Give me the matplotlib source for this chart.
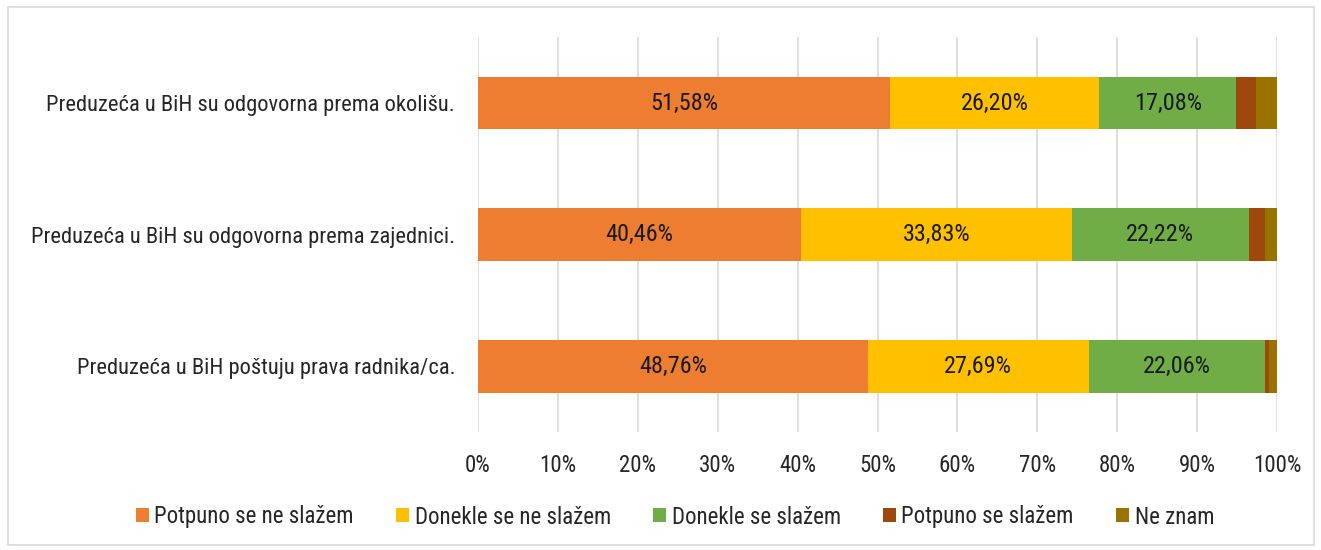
import matplotlib.pyplot as plt
import numpy as np
from matplotlib.patches import Rectangle

plt.rcParams['font.family'] = ['Roboto Condensed', 'Roboto', 'DejaVu Sans']

questions = ["Preduzeća u BiH su odgovorna prema okolišu.",
             "Preduzeća u BiH su odgovorna prema zajednici.",
             "Preduzeća u BiH poštuju prava radnika/ca."]
series = ["Potpuno se ne slažem", "Donekle se ne slažem", "Donekle se slažem",
          "Potpuno se slažem", "Ne znam"]
potpuno_ne = [51.58, 40.46, 48.76]
donekle_ne = [26.20, 33.83, 27.69]
donekle_da = [17.08, 22.22, 22.06]
potpuno_da = [2.50, 2.00, 0.45]
ne_znam = [2.64, 1.49, 1.04]
colors = ["#ED7D31", "#FFC000", "#70AD47", "#9E480E", "#997300"]

values = [potpuno_ne, donekle_ne, donekle_da, potpuno_da, ne_znam]

fig = plt.figure(figsize=(13.21, 5.5), dpi=100)
ax = fig.add_axes([0.3619, 0.2145, 0.6048, 0.7178])

y = np.arange(len(questions))
left = np.zeros(len(questions))
for name, vals, c in zip(series, values, colors):
    vals = np.array(vals)
    bars = ax.barh(y, vals, left=left, height=0.4, color=c, label=name, zorder=3)
    if name in series[:3]:
        for yi, l, v in zip(y, left, vals):
            ax.text(l + v / 2, yi, f"{v:.2f}%".replace('.', ','), ha='center', va='center',
                    fontsize=17.5, color='#1a1a1a', zorder=4)
    left += vals

ax.set_xlim(0, 100)
ax.set_ylim(2.5, -0.5)
ax.set_xticks(np.arange(0, 101, 10))
ax.set_xticklabels([f"{t}%" for t in range(0, 101, 10)], fontsize=16.5, color='#262626')
ax.set_yticks(y)
ax.set_yticklabels(questions, fontsize=16.2, color='#262626')
ax.tick_params(length=0)
ax.tick_params(axis='y', pad=16.5)
ax.tick_params(axis='x', pad=16)
ax.grid(axis='x', color='#d9d9d9', linewidth=1.2, zorder=0)
for s in ax.spines.values():
    s.set_visible(False)

ax.legend(loc='center', bbox_to_anchor=(0.511, 0.06), bbox_transform=fig.transFigure,
          ncol=5, frameon=False, fontsize=16.5, handlelength=0.55, handleheight=0.55,
          columnspacing=1.85, handletextpad=0.25, labelcolor='#262626')

fig.patches.append(Rectangle((8 / 1321, 5 / 550), 1306 / 1321, 538 / 550,
                             transform=fig.transFigure, fill=False,
                             edgecolor='#d9d9d9', linewidth=1.2))

fig.savefig("out.png", dpi=100)
